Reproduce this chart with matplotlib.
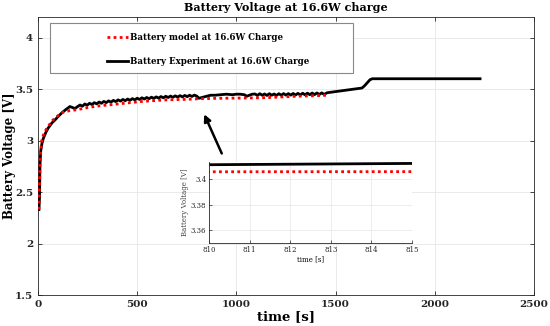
import matplotlib
matplotlib.use("Agg")
import matplotlib.pyplot as plt
from matplotlib.patches import Rectangle
from matplotlib.lines import Line2D

# Experiment data (time [s], voltage [V])
exp_t = [5, 8, 10, 14, 20, 27, 40, 51, 70, 86, 105, 121, 140, 161, 175, 186, 200,
         212, 224, 236, 248, 260, 272, 284, 296, 308, 320, 332, 344, 356, 368, 380, 392,
         404, 416, 428, 440, 452, 464, 476, 488, 500, 512, 524, 536, 548, 560, 572, 584,
         596, 608, 620, 632, 644, 656, 668, 680, 692, 704, 716, 728, 740, 752, 764, 776,
         788, 800, 810, 815, 830, 850, 870, 892, 920, 950, 980, 1000, 1018, 1040, 1053,
         1065, 1080,
         1094, 1106, 1118, 1130, 1142, 1154, 1166, 1178, 1190, 1202, 1214, 1226, 1238,
         1250, 1262, 1274, 1286, 1298, 1310, 1322, 1334, 1346, 1358, 1370, 1382, 1394,
         1406, 1418, 1430, 1442, 1457, 1633, 1645, 1673, 1685, 2228]
exp_v = [2.33, 2.45, 2.75, 2.90, 2.97, 3.02, 3.08, 3.12, 3.17, 3.20, 3.24, 3.27, 3.30, 3.33, 3.32, 3.31, 3.33,
         3.345, 3.333, 3.355, 3.343, 3.362, 3.350, 3.368, 3.356, 3.374, 3.362, 3.380, 3.368, 3.385, 3.373, 3.390, 3.378,
         3.395, 3.383, 3.399, 3.387, 3.403, 3.391, 3.407, 3.395, 3.411, 3.399, 3.415, 3.403, 3.418, 3.406, 3.421, 3.409,
         3.424, 3.412, 3.427, 3.415, 3.430, 3.418, 3.432, 3.420, 3.434, 3.422, 3.436, 3.424, 3.438, 3.426, 3.440, 3.428,
         3.441, 3.432, 3.411, 3.412, 3.42, 3.43, 3.44, 3.44, 3.445, 3.45, 3.445, 3.45, 3.45, 3.445, 3.43,
         3.44, 3.45,
         3.452, 3.438, 3.455, 3.440, 3.452, 3.438, 3.455, 3.440, 3.452, 3.438, 3.455, 3.440, 3.456,
         3.441, 3.456, 3.441, 3.457, 3.442, 3.458, 3.443, 3.459, 3.444, 3.460, 3.445, 3.461, 3.446,
         3.462, 3.447, 3.463, 3.448, 3.464, 3.51, 3.53, 3.59, 3.60, 3.60]

# Model data
mod_t = [5, 8, 12, 19, 30, 45, 60, 76, 100, 126, 160, 200, 250, 300, 378, 450, 514,
         564, 650, 750, 810, 815, 900, 1000, 1119, 1195, 1300, 1400, 1460]
mod_v = [2.33, 2.60, 2.85, 3.00, 3.07, 3.12, 3.16, 3.20, 3.24, 3.275, 3.29, 3.30, 3.32,
         3.335, 3.35, 3.365, 3.378, 3.385, 3.395, 3.40, 3.4055, 3.4056, 3.41, 3.412,
         3.415, 3.42, 3.43, 3.435, 3.44]

x_ticks = [0, 500, 1000, 1500, 2000, 2500]
y_ticks = [1.5, 2, 2.5, 3, 3.5, 4]
y_tick_labels = ['1.5', '2', '2.5', '3', '3.5', '4']
inset_x_ticks = [810, 811, 812, 813, 814, 815]
inset_y_ticks = [3.36, 3.38, 3.40]
inset_y_labels = ['3.36', '3.38', '3.4']

label_model = "Battery model at 16.6W Charge"
label_exp = "Battery Experiment at 16.6W Charge"

plt.rcParams['font.family'] = ['DejaVu Serif']

fig = plt.figure(figsize=(5.5, 3.26), dpi=100)
ax = fig.add_axes([0.069, 0.095, 0.902, 0.853])

ax.plot(exp_t, exp_v, color='black', lw=2.0, zorder=3)
ax.plot(mod_t, mod_v, color='red', lw=2.0, linestyle=(0, (1, 1.2)), zorder=4)

ax.set_xlim(0, 2500)
ax.set_ylim(1.5, 4.2)
ax.set_xticks(x_ticks)
ax.set_yticks(y_ticks)
ax.set_xticklabels([str(v) for v in x_ticks], fontsize=7.5, fontweight='bold')
ax.set_yticklabels(y_tick_labels, fontsize=7.5, fontweight='bold')
ax.tick_params(direction='in', top=True, right=True, length=3, width=0.6, colors='#262626')
ax.grid(True, color='#e6e6e6', lw=0.6)
ax.set_axisbelow(True)
for s in ax.spines.values():
    s.set_color('#262626')
    s.set_linewidth(0.6)

ax.set_title("Battery Voltage at 16.6W charge", fontsize=8, fontweight='bold', pad=4)
ax.set_xlabel("time [s]", fontsize=9.5, fontweight='bold', labelpad=1)
ax.set_ylabel("Battery Voltage [V]", fontsize=8.5, fontweight='bold')
ax.yaxis.set_label_coords(-0.044, 0.5)

# Legend box
ax.add_patch(Rectangle((0.024, 0.80), 0.611, 0.178, transform=ax.transAxes,
                       facecolor='white', edgecolor='#888888', lw=0.8, zorder=5))
handles = [Line2D([0], [0], color='red', lw=2.0, linestyle=(0, (1, 1.2))),
           Line2D([0], [0], color='black', lw=2.0)]
leg = ax.legend(handles, [label_model, label_exp], loc='center left',
                bbox_to_anchor=(0.124, 0.883), frameon=False, handlelength=2.4,
                handletextpad=0.3, labelspacing=1.75,
                prop={'size': 6.2, 'weight': 'bold', 'family': 'DejaVu Serif'})
leg.set_zorder(6)

# Arrow
ax.annotate("", xy=(832, 3.28), xytext=(932, 2.85),
            arrowprops=dict(arrowstyle='-|>', color='black', lw=1.8,
                            mutation_scale=10), zorder=7)

# Inset
ins = fig.add_axes([0.380, 0.2546, 0.369, 0.248])
ins.plot(exp_t, exp_v, color='black', lw=2.0)
ins.plot(mod_t, mod_v, color='red', lw=2.0, linestyle=(0, (1, 1.2)))
ins.set_xlim(810, 815)
ins.set_ylim(3.35, 3.413)
ins.set_xticks(inset_x_ticks)
ins.set_yticks(inset_y_ticks)
ins.set_xticklabels([str(v) for v in inset_x_ticks], fontsize=5)
ins.set_yticklabels(inset_y_labels, fontsize=5)
ins.tick_params(direction='in', length=2, width=0.5, colors='#262626', pad=2)
ins.grid(True, color='#e6e6e6', lw=0.5)
ins.spines['top'].set_visible(False)
ins.spines['right'].set_visible(False)
for s in ('left', 'bottom'):
    ins.spines[s].set_color('#262626')
    ins.spines[s].set_linewidth(0.6)
ins.set_xlabel("time [s]", fontsize=5, labelpad=1)
ins.set_ylabel("Battery Voltage [V]", fontsize=5, labelpad=1, color='#444444')

fig.savefig("out.png", dpi=100)
